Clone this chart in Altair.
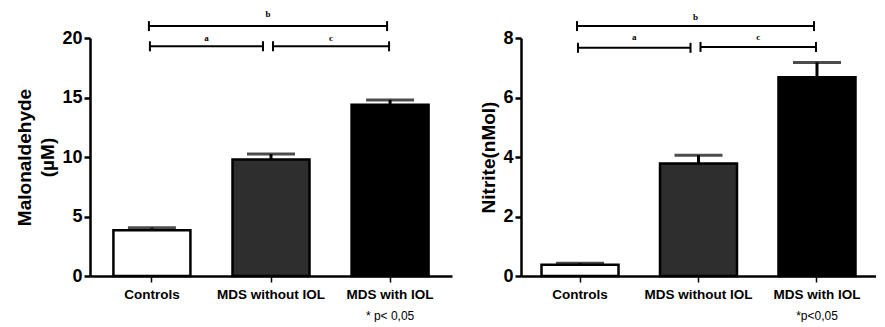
import altair as alt
import pandas as pd

categories = ["Controls", "MDS without IOL", "MDS with IOL"]
mda_values = [3.85, 9.8, 14.4]
mda_errors = [0.2, 0.45, 0.4]
nitrite_values = [0.38, 3.78, 6.68]
nitrite_errors = [0.05, 0.28, 0.5]
bar_colors = ["#ffffff", "#2e2e2e", "#000000"]

# significance brackets
bracket_labels = ["a", "b", "c"]
bracket_starts = ["Controls", "Controls", "MDS without IOL"]
bracket_ends = ["MDS without IOL", "MDS with IOL", "MDS with IOL"]
mda_bracket_levels = [19.3, 21.0, 19.3]
mda_label_levels = [20.0, 22.0, 20.0]
nitrite_bracket_levels = [7.67, 8.4, 7.7]
nitrite_label_levels = [8.02, 8.7, 8.02]

mda_ticks = [0, 5, 10, 15, 20]
nitrite_ticks = [0, 2, 4, 6, 8]

FONT = "Liberation Sans"
SERIF = "Liberation Serif"
P_INNER = 0.34
# pixel offsets of the bracket ends from the bar centres (style only)
END_OFFSETS = {"a": (-2, -8), "b": (-3, -3), "c": (2, -1)}


def panel(values, errors, ticks, ymax, title, b_levels, l_levels,
          width, height, p_outer, footnote, foot_dy):
    step = width / (3 - P_INNER + 2 * p_outer)
    xscale = alt.Scale(domain=categories, paddingInner=P_INNER,
                       paddingOuter=p_outer)

    def X(field, axis=False):
        if axis:
            return alt.X(field, type="nominal", scale=xscale,
                         axis=alt.Axis(title=None, labelAngle=0, labelFont=FONT,
                                       labelFontWeight="bold", labelFontSize=13.5,
                                       labelColor="black", domainColor="black",
                                       domainWidth=2.5, tickColor="black",
                                       tickWidth=1.5, tickSize=6, labelPadding=5))
        return alt.X(field, type="nominal", scale=xscale)

    df = pd.DataFrame({"cat": categories, "value": values, "err": errors})
    df["top"] = df["value"] + df["err"]
    yscale = alt.Scale(domain=[0, ymax], nice=False)
    base = alt.Chart(df)
    bars = base.mark_bar(size=77, stroke="black", strokeWidth=2.5).encode(
        x=X("cat", axis=True),
        y=alt.Y("value:Q", scale=yscale,
                axis=alt.Axis(values=ticks, title=title, grid=False,
                              labelFont=FONT, labelFontWeight="bold",
                              labelFontSize=18, labelColor="black",
                              titleFont=FONT, titleFontWeight="bold",
                              titleFontSize=19, titleColor="black",
                              titleLineHeight=23, titlePadding=4,
                              domainColor="black", domainWidth=2.5,
                              tickColor="black", tickWidth=2.5, tickSize=6,
                              labelPadding=2)),
        color=alt.Color("cat:N", scale=alt.Scale(domain=categories,
                                                 range=bar_colors),
                        legend=None),
    )
    err_line = base.mark_rule(color="black", strokeWidth=3).encode(
        x=X("cat"), y="value:Q", y2="top:Q")
    err_cap = base.mark_tick(color="black", size=48, thickness=3).encode(
        x=X("cat"), y="top:Q")

    layers = [bars, err_line, err_cap]
    for lab, s, e, lev, llev in zip(bracket_labels, bracket_starts, bracket_ends,
                                     b_levels, l_levels):
        o1, o2 = END_OFFSETS[lab]
        bd = pd.DataFrame({"s": [s], "e": [e], "lev": [lev], "llev": [llev],
                           "lab": [lab]})
        bb = alt.Chart(bd)
        layers.append(bb.mark_rule(color="black", strokeWidth=2,
                                   xOffset=o1, x2Offset=o2).encode(
            x=X("s"), x2="e:N", y="lev:Q"))
        layers.append(bb.mark_rule(color="black", strokeWidth=2, xOffset=o1,
                                   yOffset=-5, y2Offset=5).encode(
            x=X("s"), y="lev:Q", y2="lev:Q"))
        layers.append(bb.mark_rule(color="black", strokeWidth=2, xOffset=o2,
                                   yOffset=-5, y2Offset=5).encode(
            x=X("e"), y="lev:Q", y2="lev:Q"))
        n = categories.index(e) - categories.index(s)
        dx = (n * step + o1 + o2) / 2
        layers.append(bb.mark_text(font=SERIF, fontWeight="bold", fontSize=9,
                                   color="black", dx=dx, baseline="middle").encode(
            x=X("s"), y="llev:Q", text="lab:N"))
    fd = pd.DataFrame({"cat": [categories[2]], "txt": [footnote]})
    layers.append(alt.Chart(fd).mark_text(font=FONT, fontSize=12, color="black",
                                          baseline="middle").encode(
        x=X("cat"), y=alt.value(height + foot_dy), text="txt:N"))
    return alt.layer(*layers).properties(width=width, height=height)


left = panel(mda_values, mda_errors, mda_ticks, 20, ["Malonaldehyde", "(µM)"],
             mda_bracket_levels, mda_label_levels, 362, 238, 0.19, "* p< 0,05", 40)
right = panel(nitrite_values, nitrite_errors, nitrite_ticks, 8, "Nitrite(nMol)",
              nitrite_bracket_levels, nitrite_label_levels, 355, 238, 0.168,
              "*p<0,05", 40)

chart = alt.hconcat(left, right, spacing=27).resolve_scale(
    y="independent", color="independent").configure_view(stroke=None).properties(
    padding={"left": 7, "top": 2, "right": 0, "bottom": 0},
    background="white")

chart.save("out.html", embed_options={"renderer": "svg", "actions": False})
